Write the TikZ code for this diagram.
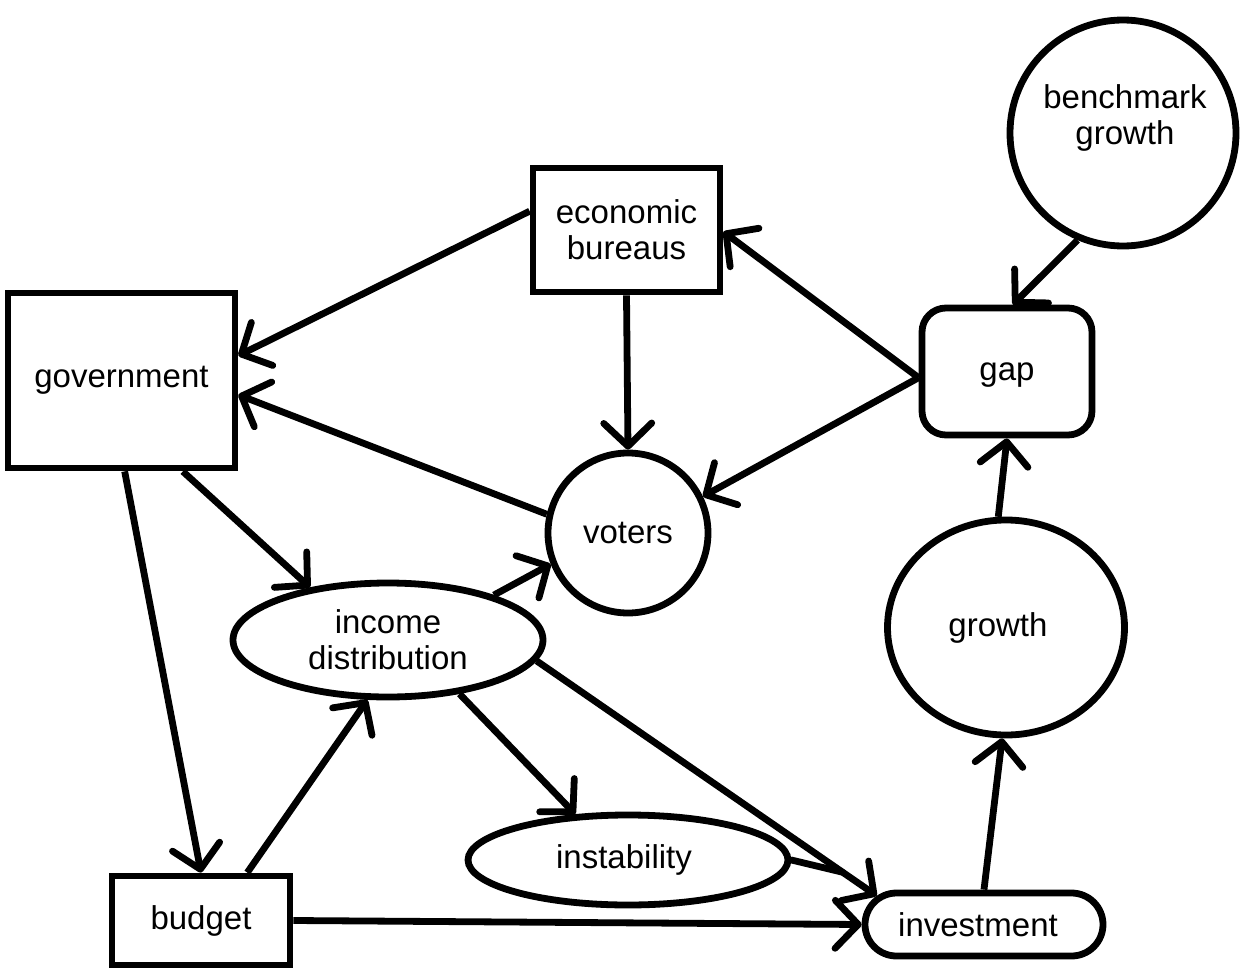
\documentclass[tikz,border=0pt]{standalone}
\usepackage{fontspec}
\setmainfont{Liberation Sans}
\usetikzlibrary{arrows.meta,shapes.geometric,shapes.misc,calc}
\begin{document}
\begin{tikzpicture}[x=0.5pt,y=-0.5pt,line width=3.4pt,
  every node/.style={font=\fontsize{16.5}{18}\selectfont,align=center,inner sep=0pt},
  boxnode/.style={draw,rectangle},
  roundbox/.style={draw,rectangle,rounded corners=12pt},
  pillnode/.style={draw,rounded rectangle},
  circnode/.style={draw,circle},
  ellnode/.style={draw,ellipse},
  arr/.style={-{Straight Barb[length=11.5pt,width=24pt,round]}},
  plain/.style={line cap=round}]
\fill[white] (0,0) rectangle (1249,969);
\useasboundingbox (0,0) rectangle (1249,969);
% nodes
\node[boxnode,minimum width=113.5pt,minimum height=87.5pt] (gov) at (121.5,380.5) {government};
\node[boxnode,minimum width=93.5pt,minimum height=62pt] (eb) at (626.5,230) {economic\\bureaus};
\node[circnode,minimum size=113pt,label={[shift={(1pt,7.5pt)}]center:benchmark\\growth}] (bg) at (1123,133) {};
\node[roundbox,minimum width=85pt,minimum height=63.5pt,label={[yshift=-2pt]center:gap}] (gap) at (1007,371.5) {};
\node[circnode,minimum size=80pt] (vot) at (628,533) {voters};
\node[ellnode,minimum width=118.5pt,minimum height=107.5pt,label={[xshift=-4pt]center:growth}] (gro) at (1006,627.5) {};
\node[ellnode,minimum width=155pt,minimum height=57pt] (inc) at (388,640) {income\\distribution};
\node[ellnode,minimum width=160pt,minimum height=45pt,label={[xshift=-2pt]center:instability}] (inst) at (628,860) {};
\node[boxnode,minimum width=89pt,minimum height=44.5pt] (bud) at (201,920.5) {budget};
\node[pillnode,minimum width=119pt,minimum height=31.5pt,label={[xshift=-3pt]center:investment}] (inv) at (984,924.5) {};
% connectors
\draw[arr] (eb.169) -- (gov.12);
\draw[arr] (vot.167) -- (gov.353);
\draw[arr] (eb.south) -- (vot.north);
\draw[arr] (gap.184) -- (eb.359);
\draw[arr] (gap.184) -- (vot.26.6);
\draw[arr] (bg.247) -- (gap.85);
\draw[arr] (gro.94) -- (gap.south);
\draw[arr] (inv.north) -- (gro.268);
\draw[arr] (gov.304.5) -- (inc.146.7);
\draw[arr] (gov.272.3) -- (bud.north);
\draw[arr] (bud.46.7) -- (inc.251);
\draw[arr] (inc.23.5) -- (vot.202.3);
\draw[arr] (inc.323) -- (inst.139);
\draw[arr] (inc.352.5) -- (inv.165.7);
\coordinate (m) at ($(inc.352.5)!0.9!(inv.165.7)$);
\draw[plain] (inst.east) -- (m);
\draw[arr] (bud.east) -- (inv.west);
\end{tikzpicture}
\end{document}
